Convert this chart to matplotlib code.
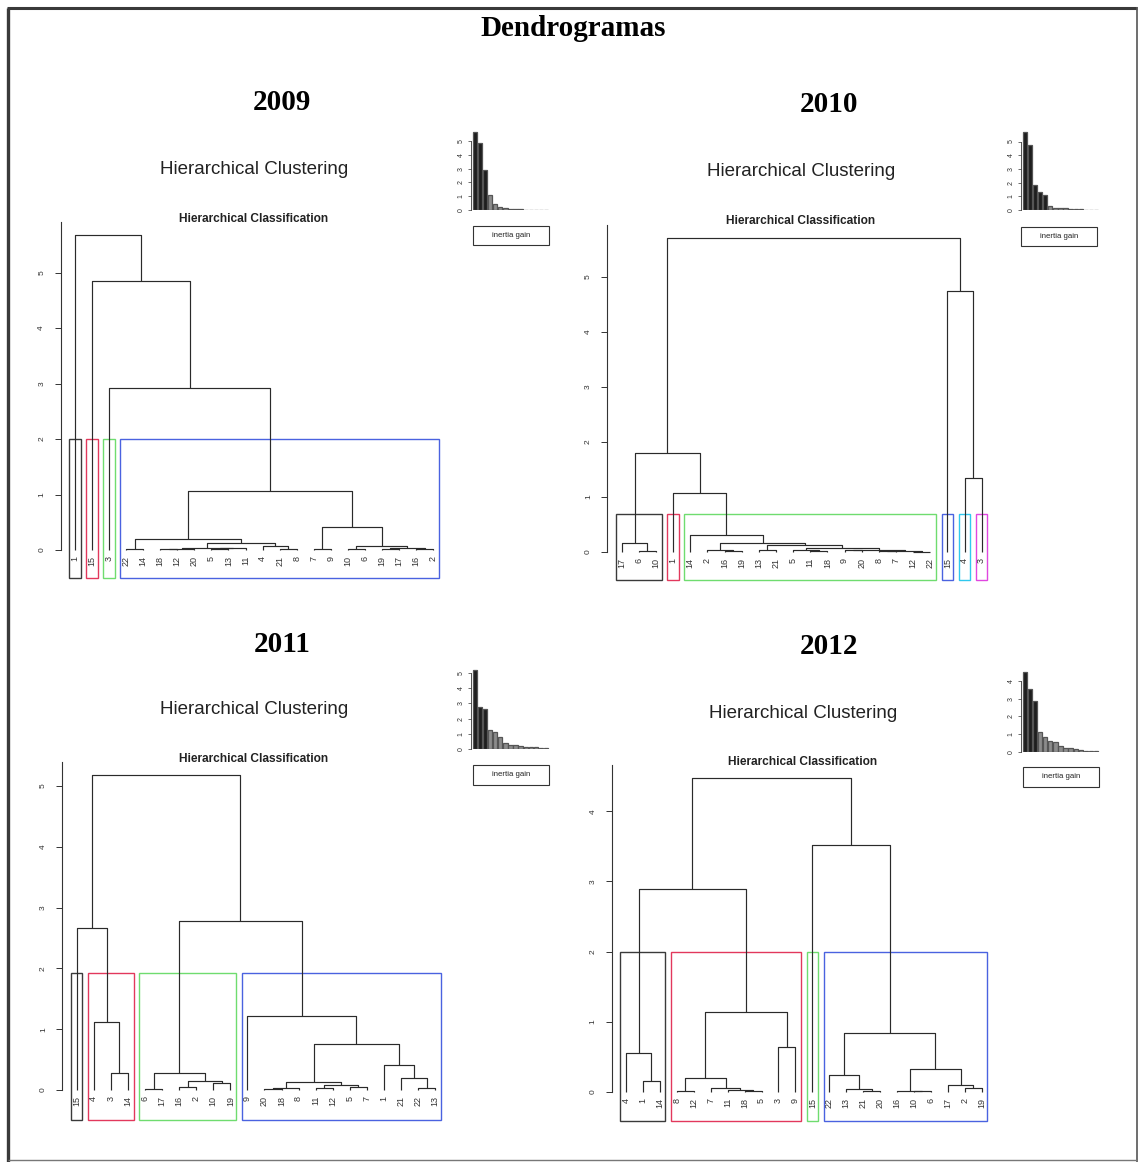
import matplotlib
matplotlib.use("Agg")
import matplotlib.pyplot as plt
from matplotlib.patches import Rectangle

W, H = 1140, 1162
plt.rcParams['font.family'] = ['Liberation Sans', 'DejaVu Sans']

# leaf order (left to right) and merges [left, right, height];
# ids < 22 are leaves (index in the label list), ids >= 22 are earlier merges
labels_2009 = [1, 15, 3, 22, 14, 18, 12, 20, 5, 13, 11, 4, 21, 8, 7, 9, 10, 6, 19, 17, 16, 2]
merges_2009 = [
    [3, 4, 0.02], [5, 6, 0.01], [23, 7, 0.02], [8, 9, 0.02], [25, 10, 0.03],
    [24, 26, 0.04], [12, 13, 0.02], [11, 28, 0.07], [27, 29, 0.12], [22, 30, 0.19],
    [14, 15, 0.02], [16, 17, 0.02], [18, 19, 0.02], [20, 21, 0.01], [34, 35, 0.03],
    [33, 36, 0.07], [32, 37, 0.41], [31, 38, 1.07], [2, 39, 2.91], [1, 40, 4.85],
    [0, 41, 5.67],
]
clusters_2009 = [(0, 0), (1, 1), (2, 2), (3, 21)]
cut_2009 = 2.0

labels_2010 = [17, 6, 10, 1, 14, 2, 16, 19, 13, 21, 5, 11, 18, 9, 20, 8, 7, 12, 22, 15, 4, 3]
merges_2010 = [
    [1, 2, 0.02], [0, 22, 0.16], [6, 7, 0.01], [5, 24, 0.03], [8, 9, 0.03],
    [11, 12, 0.01], [10, 27, 0.04], [13, 14, 0.03], [15, 16, 0.01], [17, 18, 0.005],
    [30, 31, 0.02], [29, 32, 0.04], [28, 33, 0.07], [26, 34, 0.13], [25, 35, 0.17],
    [4, 36, 0.31], [3, 37, 1.07], [23, 38, 1.80], [20, 21, 1.35], [19, 40, 4.75],
    [39, 41, 5.71],
]
clusters_2010 = [(0, 2), (3, 3), (4, 18), (19, 19), (20, 20), (21, 21)]
cut_2010 = 0.69

labels_2011 = [15, 4, 3, 14, 6, 17, 16, 2, 10, 19, 9, 20, 18, 8, 11, 12, 5, 7, 1, 21, 22, 13]
merges_2011 = [
    [2, 3, 0.28], [1, 22, 1.12], [0, 23, 2.66], [4, 5, 0.02], [6, 7, 0.05],
    [8, 9, 0.12], [26, 27, 0.15], [25, 28, 0.28], [11, 12, 0.02], [30, 13, 0.04],
    [14, 15, 0.03], [16, 17, 0.05], [32, 33, 0.08], [31, 34, 0.13], [20, 21, 0.04],
    [19, 36, 0.19], [18, 37, 0.41], [35, 38, 0.76], [10, 39, 1.22], [29, 40, 2.78],
    [24, 41, 5.18],
]
clusters_2011 = [(0, 0), (1, 3), (4, 9), (10, 21)]
cut_2011 = 1.93

labels_2012 = [4, 1, 14, 8, 12, 7, 11, 18, 5, 3, 9, 15, 22, 13, 21, 20, 16, 10, 6, 17, 2, 19]
merges_2012 = [
    [1, 2, 0.16], [0, 22, 0.55], [3, 4, 0.02], [7, 8, 0.01], [6, 25, 0.03],
    [5, 26, 0.06], [24, 27, 0.20], [9, 10, 0.64], [28, 29, 1.14], [23, 30, 2.89],
    [14, 15, 0.02], [13, 32, 0.04], [12, 33, 0.24], [17, 18, 0.01], [16, 35, 0.02],
    [20, 21, 0.05], [19, 37, 0.10], [36, 38, 0.33], [34, 39, 0.84], [11, 40, 3.52],
    [31, 41, 4.47],
]
clusters_2012 = [(0, 2), (3, 10), (11, 11), (12, 21)]
cut_2012 = 2.0

years = ["2009", "2010", "2011", "2012"]
cluster_colors = ['#3a3a3a', '#e2385c', '#6fdc6f', '#4a62e0', '#30c8ee', '#e046e0']
line_col = '#2a2a2a'
n_gain_bars = 15


def add_px_axes(fig, x_px, x_val, sx, y0_px, sy, xlim, ylim):
    # axes whose data coords map onto the picture's pixel grid
    left = x_px + (xlim[0] - x_val) * sx
    right = x_px + (xlim[1] - x_val) * sx
    top = y0_px - ylim[1] * sy
    bottom = y0_px - ylim[0] * sy
    ax = fig.add_axes([left / W, 1 - bottom / H, (right - left) / W, (bottom - top) / H])
    ax.set_xlim(xlim)
    ax.set_ylim(ylim)
    ax.set_facecolor('none')
    for s in ['top', 'right', 'bottom']:
        ax.spines[s].set_visible(False)
    ax.spines['left'].set_color('#333333')
    ax.spines['left'].set_linewidth(0.8)
    ax.set_xticks([])
    return ax


def draw_tree(ax, labels, merges):
    xs = list(range(len(labels)))
    ys = [0.0] * len(labels)
    for a, b, h in merges:
        ax.plot([xs[a], xs[a], xs[b], xs[b]], [ys[a], h, h, ys[b]],
                color=line_col, lw=0.85, solid_capstyle='butt')
        xs.append((xs[a] + xs[b]) / 2)
        ys.append(h)
    for i, lab in enumerate(labels):
        ax.annotate(str(lab), (i, 0), xytext=(0, -4), textcoords='offset points',
                    rotation=90, ha='center', va='top', fontsize=6.5, color='#333333')


fig = plt.figure(figsize=(W / 100, H / 100), dpi=100)
fig.patch.set_facecolor('white')

# overlay in pixel coordinates for titles, frame and legend boxes
ov = fig.add_axes([0, 0, 1, 1])
ov.set_xlim(0, W)
ov.set_ylim(H, 0)
ov.axis('off')
ov.plot([8, 8], [8, 1162], color='#3a3a3a', lw=2.4, solid_capstyle='butt')
ov.plot([7, 1137], [8, 8], color='#3a3a3a', lw=2.2, solid_capstyle='butt')
ov.plot([1137, 1137], [7, 1162], color='#555555', lw=1.2, solid_capstyle='butt')
ov.plot([8, 1137], [1160, 1160], color='#777777', lw=1.0, solid_capstyle='butt')
ov.text(573, 28, "Dendrogramas", ha='center', va='center', fontsize=21,
        fontweight='bold', family=['Liberation Serif', 'DejaVu Serif'])

panel_data = [
    (labels_2009, merges_2009, clusters_2009, cut_2009),
    (labels_2010, merges_2010, clusters_2010, cut_2010),
    (labels_2011, merges_2011, clusters_2011, cut_2011),
    (labels_2012, merges_2012, clusters_2012, cut_2012),
]

# layout per panel: dendrogram mapping, axis range, titles, inset mapping
layout = [
    dict(x0=75, sp=17.05, y0=550, unit=55.5, ylo=-0.50, ytop=5.91, ymaxtick=5,
         year=(282, 103), hc=(254, 170), hcl=(254, 219),
         bx=473, by0=210, bunit=13.8, btop=5, box=(473, 226, 76, 19)),
    dict(x0=621.7, sp=17.14, y0=552, unit=55.0, ylo=-0.51, ytop=5.95, ymaxtick=5,
         year=(829, 105), hc=(801, 172), hcl=(801, 221),
         bx=1023, by0=210, bunit=13.7, btop=5, box=(1021, 227, 76, 19)),
    dict(x0=76.7, sp=17.07, y0=1090, unit=60.8, ylo=-0.49, ytop=5.39, ymaxtick=5,
         year=(282, 644), hc=(254, 709), hcl=(254, 759),
         bx=473, by0=749, bunit=15.2, btop=5, box=(473, 765, 76, 20)),
    dict(x0=626, sp=16.94, y0=1092, unit=70.2, ylo=-0.41, ytop=4.66, ymaxtick=4,
         year=(829, 646), hc=(803, 713), hcl=(803, 762),
         bx=1023, by0=752, bunit=17.8, btop=4, box=(1023, 767, 76, 20)),
]

for year, (labels, merges, clusters, cut), g in zip(years, panel_data, layout):
    n = len(labels)
    ax = add_px_axes(fig, g['x0'], 0, g['sp'], g['y0'], g['unit'],
                     (-0.85, n - 1 + 0.85), (g['ylo'], g['ytop']))
    ax.spines['left'].set_bounds(0, g['ytop'])
    ax.set_yticks(range(g['ymaxtick'] + 1))
    ax.tick_params(axis='y', length=4, width=0.7, colors='#333333', labelsize=6,
                   pad=7, labelrotation=90)
    for t in ax.get_yticklabels():
        t.set_va('center')
    draw_tree(ax, labels, merges)
    for k, (i0, i1) in enumerate(clusters):
        ax.add_patch(Rectangle((i0 - 0.34, g['ylo']), i1 - i0 + 0.67, cut - g['ylo'],
                               fill=False, edgecolor=cluster_colors[k], lw=1.0,
                               clip_on=False))

    # inertia gain inset: merge heights in decreasing order
    gains = sorted([m[2] for m in merges], reverse=True)[:n_gain_bars]
    n_dark = len(clusters) - 1
    bax = add_px_axes(fig, g['bx'], 0.2, 4.21, g['by0'], g['bunit'],
                      (-0.3, 18.5), (0, max(gains) * 1.05))
    bax.spines['left'].set_bounds(0, g['btop'])
    bax.spines['left'].set_linewidth(0.6)
    bax.bar([0.7 + 1.2 * i for i in range(len(gains))], gains, width=1.0,
            color=['#1e1e1e' if i < n_dark else '#8c8c8c' for i in range(len(gains))],
            edgecolor='#555555', linewidth=0.9)
    bax.set_yticks(range(g['btop'] + 1))
    bax.tick_params(axis='y', length=2.5, width=0.5, colors='#333333', labelsize=5,
                    pad=2, labelrotation=90)
    for t in bax.get_yticklabels():
        t.set_va('center')

    bx, by, bw, bh = g['box']
    ov.add_patch(Rectangle((bx, by), bw, bh, fill=False, edgecolor='#333333', lw=0.8))
    ov.text(bx + bw / 2, by + bh / 2, "inertia gain", ha='center', va='center',
            fontsize=5.6, color='#222222')

    ov.text(g['year'][0], g['year'][1], year, ha='center', va='center', fontsize=21,
            fontweight='bold', family=['Liberation Serif', 'DejaVu Serif'])
    ov.text(g['hc'][0], g['hc'][1], "Hierarchical Clustering", ha='center', va='center',
            fontsize=13.5, color='#222222')
    ov.text(g['hcl'][0], g['hcl'][1], "Hierarchical Classification", ha='center',
            va='center', fontsize=8.6, fontweight='bold', color='#222222')

fig.savefig("out.png", dpi=100)
